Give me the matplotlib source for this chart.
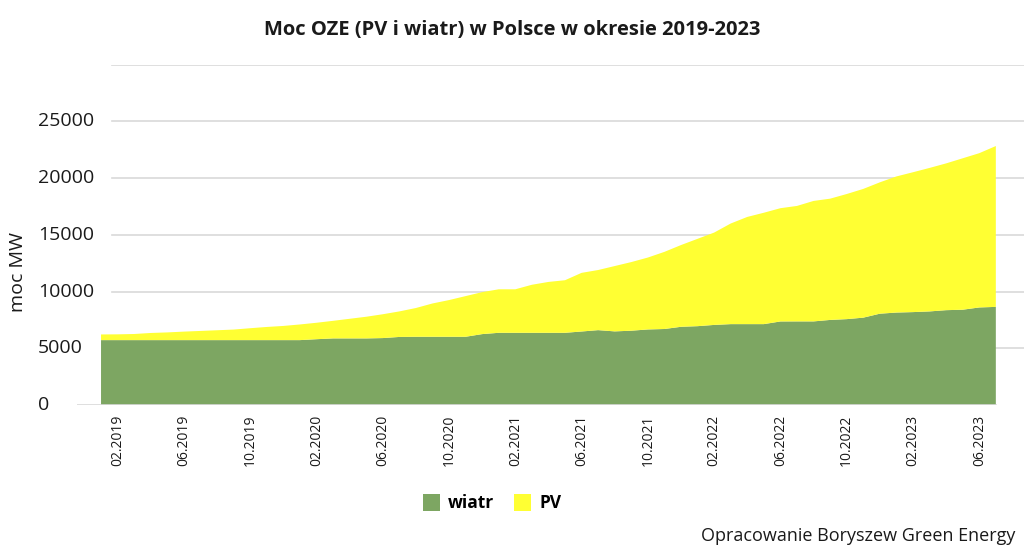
import numpy as np
import matplotlib
matplotlib.use("Agg")
import matplotlib.pyplot as plt
import matplotlib.transforms as mtransforms
from matplotlib.patches import Patch

plt.rcParams["font.family"] = ["Open Sans", "DejaVu Sans"]

# monthly values, 01.2019 .. 07.2023
months = [f"{m:02d}.{y}" for y in range(2019, 2024) for m in range(1, 13)][:55]

wiatr = [5720, 5720, 5720, 5720, 5720, 5720, 5720, 5720, 5720, 5720,
         5720, 5720, 5720, 5800, 5870, 5870, 5870, 5900, 6000, 6015,
         6015, 6015, 6015, 6250, 6365, 6365, 6365, 6365, 6365, 6480,
         6600, 6490, 6550, 6660, 6700, 6895, 6950, 7060, 7130, 7130,
         7130, 7365, 7370, 7370, 7500, 7570, 7700, 8050, 8150, 8190,
         8250, 8360, 8400, 8600, 8650]

razem = [6220, 6230, 6260, 6350, 6400, 6470, 6530, 6590, 6650, 6770,
         6880, 6970, 7100, 7250, 7420, 7600, 7780, 8000, 8250, 8550,
         8950, 9250, 9600, 9950, 10200, 10200, 10600, 10850, 11000, 11650,
         11900, 12250, 12600, 13000, 13500, 14100, 14650, 15200, 16000, 16580,
         16950, 17350, 17550, 17990, 18190, 18600, 19050, 19630, 20150, 20520,
         20900, 21300, 21750, 22200, 22830]

pv = [t - w for t, w in zip(razem, wiatr)]

y_ticks = list(range(0, 25001, 5000))

GREEN = "#7DA662"
YELLOW = "#FFFF33"
TXT = "#1a1a1a"

fig = plt.figure(figsize=(10.24, 5.53), dpi=100)
ax = fig.add_axes([77 / 1024, 1 - 405 / 553, 947 / 1024, (405 - 64.7) / 553])

x = np.arange(len(months))
ax.stackplot(x, wiatr, pv, colors=[GREEN, YELLOW], linewidth=0, zorder=2)

ax.set_xlim(-1.45, 55.7)
ax.set_ylim(0, 30000)

# grid lines start a bit right of the axis origin
for yv in range(5000, 30001, 5000):
    ax.axhline(yv, xmin=0.037, xmax=1, color="#d9d9d9", linewidth=1.2, zorder=1)
ax.axhline(0, xmin=0, xmax=0.97, color="#d9d9d9", linewidth=1.2, zorder=3)

# y labels are left aligned in the reference
ax.set_yticks(y_ticks)
ax.set_yticklabels([])
ax.tick_params(axis="y", length=0)
trans = mtransforms.blended_transform_factory(fig.transFigure, ax.transData)
for v in y_ticks:
    ax.text(38 / 1024, v, str(v), transform=trans, ha="left", va="center",
            fontsize=14, color=TXT)

tick_pos = x[1::4]
ax.set_xticks(tick_pos)
ax.set_xticklabels([months[i] for i in tick_pos], rotation=90, va="top")
ax.tick_params(axis="x", length=0, labelsize=10, pad=7, colors=TXT)

for s in ax.spines.values():
    s.set_visible(False)

fig.text(18 / 1024, 1 - 272 / 553, "moc MW", rotation=90, ha="center",
         va="center", fontsize=14, color=TXT)

fig.text(512 / 1024, 1 - 30 / 553, "Moc OZE (PV i wiatr) w Polsce w okresie 2019-2023",
         ha="center", va="center", fontsize=14.5, fontweight="bold", color=TXT)

handles = [Patch(facecolor=GREEN, edgecolor="none", label="wiatr"),
           Patch(facecolor=YELLOW, edgecolor="none", label="PV")]
fig.legend(handles=handles, loc="center", bbox_to_anchor=(492 / 1024, 1 - 503 / 553),
           ncol=2, frameon=False, handlelength=1.0, handleheight=1.2,
           handletextpad=0.45, columnspacing=1.15,
           prop={"weight": "bold", "size": 12.5})

fig.text(1015 / 1024, 1 - 536 / 553, "Opracowanie Boryszew Green Energy",
         ha="right", va="center", fontsize=13, color=TXT)

fig.savefig("out.png", dpi=100)
